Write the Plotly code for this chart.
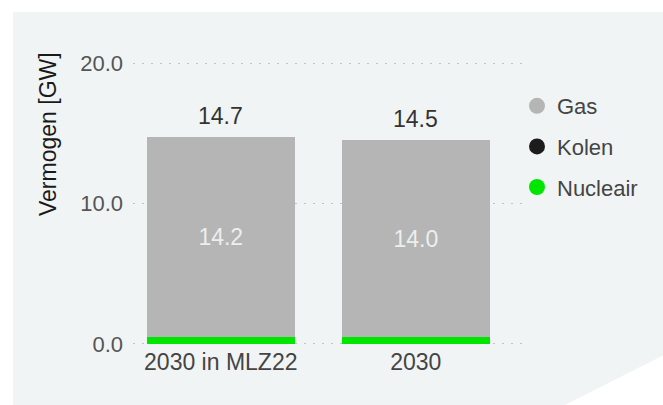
import plotly.graph_objects as go

# Installed capacity per scenario (GW)
categories = ["2030 in MLZ22", "2030"]
nucleair = [0.5, 0.5]
kolen = [0.0, 0.0]
gas = [14.2, 14.0]

series_names = ["Nucleair", "Kolen", "Gas"]
series_values = [nucleair, kolen, gas]
series_colors = ["#00e600", "#1c1c1c", "#b5b5b5"]

y_ticks = [0, 10, 20]

W, H = 663, 405
FONT = "Liberation Sans, Arial, sans-serif"
BG = "#f1f4f5"

# Plot area in pixels; y range padded so the 0 and 20 gridlines stay inside
Y_MIN, Y_MAX = -0.5, 20.5
PX_PER_GW = 281 / 20
PLOT_L, PLOT_R = 133, 527
PLOT_T = round(63 - (Y_MAX - 20) * PX_PER_GW)
PLOT_B = round(344 + (0 - Y_MIN) * PX_PER_GW)


def px_to_paper(px, py):
    return ((px - PLOT_L) / (PLOT_R - PLOT_L), (PLOT_B - py) / (PLOT_B - PLOT_T))


fig = go.Figure()

for name, vals, color in zip(series_names, series_values, series_colors):
    is_gas = name == "Gas"
    fig.add_trace(go.Bar(
        x=categories, y=vals, name=name,
        marker=dict(color=color, line=dict(width=0)),
        text=[f"{v:.1f}" for v in vals] if is_gas else None,
        texttemplate="%{text}" if is_gas else None,
        textposition="inside" if is_gas else "none",
        insidetextanchor="middle",
        textfont=dict(family=FONT, size=23, color="#eeeeee"),
        showlegend=False,
        hoverinfo="skip",
    ))

# Legend entries with round markers (Gas listed first)
for name, color in reversed(list(zip(series_names, series_colors))):
    fig.add_trace(go.Scatter(
        x=[None], y=[None], mode="markers", name=name,
        marker=dict(color=color, size=16, symbol="circle"),
        legendgroup=name,
    ))

# Totals above each stack
totals = [sum(v) for v in zip(*series_values)]
for i, tot in enumerate(totals):
    fig.add_annotation(
        x=i, y=tot, text=f"{tot:.1f}", showarrow=False,
        yanchor="bottom", yshift=6,
        font=dict(family=FONT, size=23, color="#333333"),
    )

# Y-axis title
tx, ty = px_to_paper(48, 134)
fig.add_annotation(
    xref="paper", yref="paper", x=tx, y=ty, text="Vermogen [GW]",
    textangle=-90, showarrow=False, xanchor="center", yanchor="middle",
    font=dict(family=FONT, size=23, color="#1a1a1a"),
)

# White frame around the grey panel and the cut corner
shapes = []
x0, y0 = px_to_paper(-1, -1)
x1, y1 = px_to_paper(W + 1, 12)
shapes.append(dict(type="rect", xref="paper", yref="paper", x0=x0, y0=y0, x1=x1, y1=y1,
                   fillcolor="white", line=dict(width=0), layer="below"))
x0, y0 = px_to_paper(-1, -1)
x1, y1 = px_to_paper(13, H + 1)
shapes.append(dict(type="rect", xref="paper", yref="paper", x0=x0, y0=y0, x1=x1, y1=y1,
                   fillcolor="white", line=dict(width=0), layer="below"))
pts = [px_to_paper(563, H + 1), px_to_paper(W + 1, 355), px_to_paper(W + 1, H + 1)]
path = "M " + " L ".join(f"{a},{b}" for a, b in pts) + " Z"
shapes.append(dict(type="path", xref="paper", yref="paper", path=path,
                   fillcolor="white", line=dict(width=0), layer="below"))

lx, ly = px_to_paper(517, 85)

fig.update_layout(
    width=W, height=H,
    margin=dict(l=PLOT_L, r=W - PLOT_R, t=PLOT_T, b=H - PLOT_B, pad=0),
    paper_bgcolor=BG, plot_bgcolor="rgba(0,0,0,0)",
    barmode="stack", bargap=0.24,
    font=dict(family=FONT, size=22, color="#555555"),
    shapes=shapes,
    showlegend=True,
    legend=dict(
        x=lx, y=ly, xanchor="left", yanchor="top",
        bgcolor="rgba(0,0,0,0)", borderwidth=0,
        font=dict(family=FONT, size=22, color="#444444"),
        traceorder="grouped", tracegroupgap=9,
        itemwidth=30,
    ),
    xaxis=dict(
        range=[-0.45, 1.57], showgrid=False, zeroline=False, showline=False,
        ticks="", tickfont=dict(family=FONT, size=23, color="#444444"),
        ticklabelstandoff=-5,
    ),
    yaxis=dict(
        range=[Y_MIN, Y_MAX], tickvals=y_ticks, tickformat=".1f",
        showgrid=True, gridcolor="#bfc3c5", griddash="2px,7px", gridwidth=1.4,
        zeroline=False, showline=False, ticks="",
        tickfont=dict(family=FONT, size=22, color="#555555"),
        ticklabelstandoff=9,
    ),
)

fig.write_html("out.html")
